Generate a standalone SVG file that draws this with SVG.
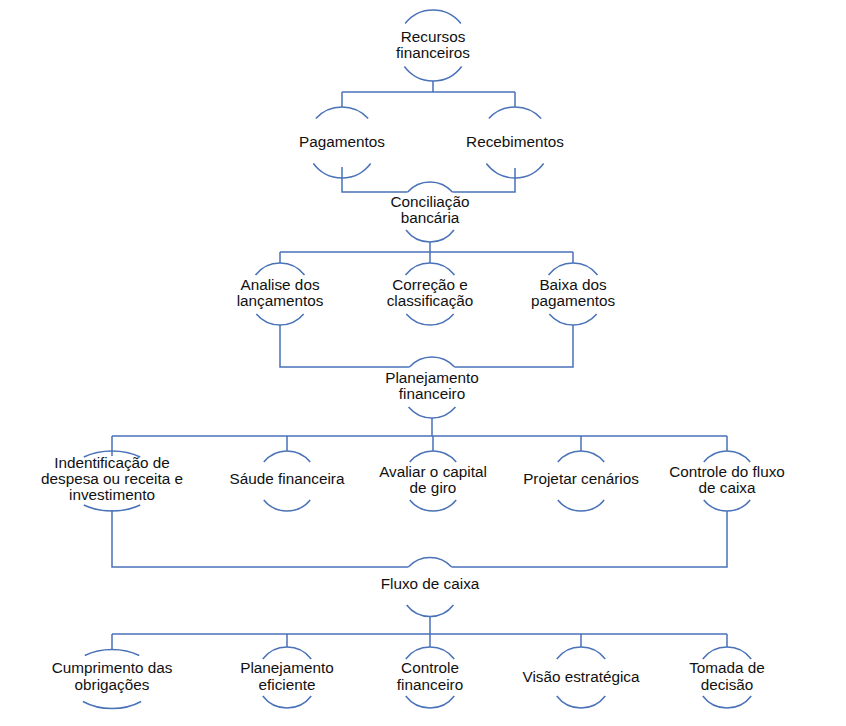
<svg xmlns="http://www.w3.org/2000/svg" width="846" height="726" viewBox="0 0 846 726">
<style>
.ln{fill:none;stroke:#4a72b8;stroke-width:1.5}
.arc{fill:none;stroke:#4a72b8;stroke-width:1.5}
text{font-family:"Liberation Sans",Arial,sans-serif;font-size:15.3px;fill:#111111;text-anchor:middle}
</style>
<rect width="846" height="726" fill="#ffffff"/>
<g id="connectors">
<path class="ln" d="M433,81V92M342,92H515M342,92V107M515,92V107"/>
<path class="ln" d="M342,167V192H407.64M515,168V192H452.36"/>
<path class="ln" d="M430,242V252M280,252H573M280,252V263M430,252V263M573,252V263"/>
<path class="ln" d="M280,325V367H409.42M573,325V367H454.58"/>
<path class="ln" d="M432,418V436M112,436H727M112,436V456M287,436V451M433,436V451M581,436V451M727,436V451"/>
<path class="ln" d="M112,510V567H408.31M727,511V567H451.69"/>
<path class="ln" d="M430,616.5V634M112,634H727M112,634V650M287,634V647M430,634V647M581,634V647M727,634V647"/>
</g>
<g id="n-recursos">
<path class="arc" d="M405.14,23.5A35.5,35.5 0 0 1 460.86,23.5M404.38,66.5A35.5,35.5 0 0 0 461.62,66.5"/>
<text x="433" y="42">Recursos</text><text x="433" y="58">financeiros</text>
</g>
<g id="n-pagamentos">
<path class="arc" d="M315.84,118.5A35.5,35.5 0 0 1 368.16,118.5M313.38,163.5A35.5,35.5 0 0 0 370.62,163.5"/>
<text x="342" y="147">Pagamentos</text>
</g>
<g id="n-recebimentos">
<path class="arc" d="M488.84,118.5A35.5,35.5 0 0 1 541.16,118.5M486.38,163.5A35.5,35.5 0 0 0 543.62,163.5"/>
<text x="515" y="147">Recebimentos</text>
</g>
<g id="n-conciliacao">
<path class="arc" d="M407.64,192A30,30 0 0 1 452.36,192M406,230A30,30 0 0 0 454,230"/>
<text x="430" y="207">Conciliação</text><text x="430" y="223">bancária</text>
</g>
<g id="n-analise">
<path class="arc" d="M255.51,275A31,31 0 0 1 304.49,275M256.31,314A31,31 0 0 0 303.69,314"/>
<text x="280" y="290">Analise dos</text><text x="280" y="306">lançamentos</text>
</g>
<g id="n-correcao">
<path class="arc" d="M405.51,275A31,31 0 0 1 454.49,275M406.31,314A31,31 0 0 0 453.69,314"/>
<text x="430" y="290">Correção e</text><text x="430" y="306">classificação</text>
</g>
<g id="n-baixa">
<path class="arc" d="M548.51,275A31,31 0 0 1 597.49,275M549.31,314A31,31 0 0 0 596.69,314"/>
<text x="573" y="290">Baixa dos</text><text x="573" y="306">pagamentos</text>
</g>
<g id="n-planejamento">
<path class="arc" d="M409.42,367A30.5,30.5 0 0 1 454.58,367M408.55,407A30.5,30.5 0 0 0 455.45,407"/>
<text x="432" y="383">Planejamento</text><text x="432" y="399">financeiro</text>
</g>
<g id="n-indentificacao">
<path class="arc" d="M83.8,457A47,30 0 0 1 140.2,457M83.8,505A47,30 0 0 0 140.2,505"/>
<text x="112" y="468">Indentificação de</text><text x="112" y="484">despesa ou receita e</text><text x="112" y="500">investimento</text>
</g>
<g id="n-saude">
<path class="arc" d="M263.78,462A30,30 0 0 1 310.22,462M263.78,500A30,30 0 0 0 310.22,500"/>
<text x="287" y="484">Sáude financeira</text>
</g>
<g id="n-avaliar">
<path class="arc" d="M409.78,462A30,30 0 0 1 456.22,462M409.78,500A30,30 0 0 0 456.22,500"/>
<text x="433" y="477">Avaliar o capital</text><text x="433" y="493">de giro</text>
</g>
<g id="n-projetar">
<path class="arc" d="M557.78,462A30,30 0 0 1 604.22,462M557.78,500A30,30 0 0 0 604.22,500"/>
<text x="581" y="484">Projetar cenários</text>
</g>
<g id="n-controle-fluxo">
<path class="arc" d="M703.78,462A30,30 0 0 1 750.22,462M703.78,500A30,30 0 0 0 750.22,500"/>
<text x="727" y="477">Controle do fluxo</text><text x="727" y="493">de caixa</text>
</g>
<g id="n-fluxo">
<path class="arc" d="M408.31,567A29.5,29.5 0 0 1 451.69,567M406.63,605A29.5,29.5 0 0 0 453.37,605"/>
<text x="430" y="589">Fluxo de caixa</text>
</g>
<g id="n-cumprimento">
<path class="arc" d="M84.8,655.5A45,29.5 0 0 1 139.2,655.5M82.9,701.5A45,29.5 0 0 0 141.1,701.5"/>
<text x="112" y="673">Cumprimento das</text><text x="112" y="690">obrigações</text>
</g>
<g id="n-planejamento-eficiente">
<path class="arc" d="M262.75,659A30.5,30.5 0 0 1 311.25,659M262.75,696A30.5,30.5 0 0 0 311.25,696"/>
<text x="287" y="673">Planejamento</text><text x="287" y="690">eficiente</text>
</g>
<g id="n-controle-financeiro">
<path class="arc" d="M405.75,659A30.5,30.5 0 0 1 454.25,659M405.75,696A30.5,30.5 0 0 0 454.25,696"/>
<text x="430" y="673">Controle</text><text x="430" y="690">financeiro</text>
</g>
<g id="n-visao">
<path class="arc" d="M556.75,659A30.5,30.5 0 0 1 605.25,659M556.75,696A30.5,30.5 0 0 0 605.25,696"/>
<text x="581" y="682">Visão estratégica</text>
</g>
<g id="n-tomada">
<path class="arc" d="M702.75,659A30.5,30.5 0 0 1 751.25,659M702.75,696A30.5,30.5 0 0 0 751.25,696"/>
<text x="727" y="673">Tomada de</text><text x="727" y="690">decisão</text>
</g>
</svg>
